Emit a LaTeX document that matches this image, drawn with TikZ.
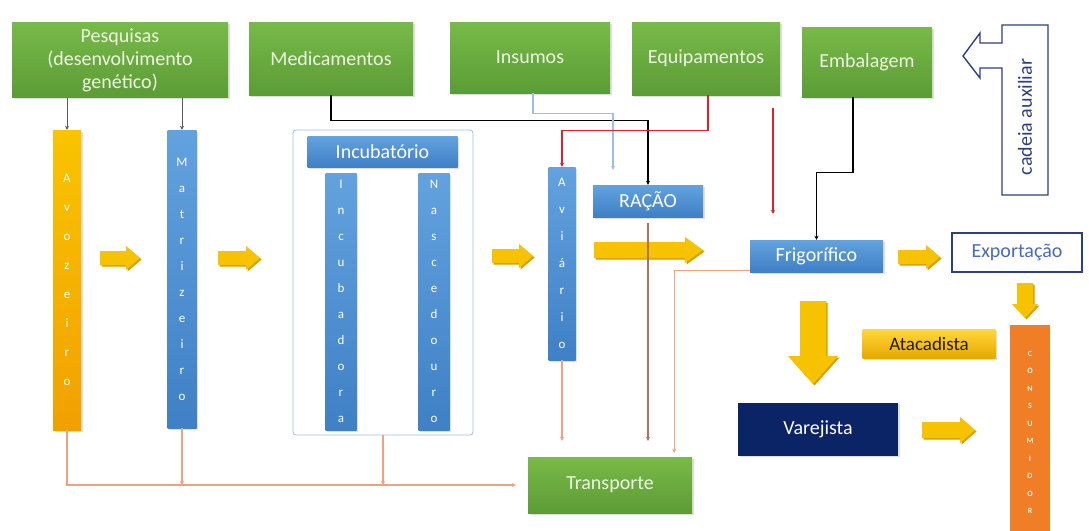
\documentclass[tikz,border=0pt]{standalone}
\usepackage{fontspec}
\setmainfont{Carlito}
\usetikzlibrary{shadows,arrows.meta}
\definecolor{gtop}{HTML}{78BA48}
\definecolor{gbot}{HTML}{5C9C36}
\definecolor{btop}{HTML}{62A2DE}
\definecolor{bbot}{HTML}{3F80C6}
\definecolor{ayel}{HTML}{F7C200}
\definecolor{ashad}{HTML}{D89E00}
\definecolor{navy}{HTML}{0B2466}
\definecolor{orng}{HTML}{F07E26}
\definecolor{salmon}{HTML}{F2A07E}
\definecolor{brownl}{HTML}{B5705A}
\definecolor{redl}{HTML}{E02030}
\definecolor{lblue}{HTML}{9CBFE6}
\definecolor{dblue}{HTML}{2E3F7F}
\definecolor{gtext}{HTML}{EEF7E4}
\definecolor{etext}{HTML}{4A6BB5}
\definecolor{ytop}{HTML}{FFD83A}
\definecolor{ybot}{HTML}{E8A600}
\definecolor{otop}{HTML}{F9C400}
\definecolor{obot}{HTML}{F2A000}
\newcommand\rblock[6]{% xstart, ycenter, xtip, shaft half, head half, head length
  \foreach \s/\c in {1.5/ashad,0/ayel}{
    \fill[\c, shift={(\s,\s)}] (#1,#2-#4) -- (#3-#6,#2-#4) -- (#3-#6,#2-#5) -- (#3,#2)
      -- (#3-#6,#2+#5) -- (#3-#6,#2+#4) -- (#1,#2+#4) -- cycle;}}
\newcommand\dblock[6]{% xcenter, ystart, ytip, shaft half, head half, head length
  \foreach \s/\c in {1.5/ashad,0/ayel}{
    \fill[\c, shift={(\s,\s)}] (#1-#4,#2) -- (#1-#4,#3-#6) -- (#1-#5,#3-#6) -- (#1,#3)
      -- (#1+#5,#3-#6) -- (#1+#4,#3-#6) -- (#1+#4,#2) -- cycle;}}
\begin{document}
\begin{tikzpicture}[x=1pt,y=-1pt,
  box/.style={rectangle, inner sep=0pt, align=center, font=\fontsize{20}{23}\selectfont},
  shad/.style={drop shadow={opacity=0.25,shadow xshift=1.5pt,shadow yshift=-1.5pt}},
  gbox/.style={box, shad, top color=gtop, bottom color=gbot, text=gtext},
  bbox/.style={box, shad, top color=btop, bottom color=bbot, text=white},
  col/.style={bbox, font=\fontsize{13}{26}\selectfont},
  sal/.style={draw=salmon, line width=1.3pt},
  tip/.style={-{Stealth[length=4pt,width=4pt]}},
]
\useasboundingbox (0,0) rectangle (1089,530);
\fill[white] (0,0) rectangle (1089,530);

% top supplier boxes
\node[gbox, minimum width=216pt, minimum height=75pt] (pesq) at (120,60) {Pesquisas\\(desenvolvimento\\genético)};
\node[gbox, minimum width=164pt, minimum height=73pt] (med) at (331,58.5) {Medicamentos};
\node[gbox, minimum width=160pt, minimum height=71pt] (ins) at (530,57.5) {Insumos};
\node[gbox, minimum width=148pt, minimum height=73pt] (equ) at (706,58.5) {Equipamentos};
\node[gbox, minimum width=130pt, minimum height=70pt] (emb) at (867,62) {Embalagem};

% cadeia auxiliar block arrow
\draw[dblue, line width=1.4pt, fill=white] (1002,25) -- (1048,25) -- (1048,195) -- (1002,195)
  -- (1002,68) -- (980,68) -- (980,78) -- (963,56) -- (980,33) -- (980,43) -- (1002,43) -- cycle;
\node[rotate=90, text=dblue, font=\fontsize{20}{22}\selectfont] (cad) at (1025,117) {cadeia auxiliar};

% production chain columns
\node[box, shad, top color=otop, bottom color=obot, text=white, font=\fontsize{13}{29}\selectfont,
  minimum width=28pt, minimum height=300pt] (avo) at (67,280) {A\\v\\o\\z\\e\\i\\r\\o};
\node[col, minimum width=29pt, minimum height=298pt] (mat) at (182,279) {M\\a\\t\\r\\i\\z\\e\\i\\r\\o};

\node[draw=lblue, fill=white, rounded corners=3pt, line width=0.8pt, minimum width=180pt,
  minimum height=305pt, inner sep=0pt] (inc) at (383,282.5) {};
\node[bbox, minimum width=150pt, minimum height=31pt] (inchead) at (382.5,151.5) {Incubatório};
\node[col, minimum width=31pt, minimum height=257pt] (incd) at (341,301.5) {I\\n\\c\\u\\b\\a\\d\\o\\r\\a};
\node[col, minimum width=31pt, minimum height=257pt] (nasc) at (434,301.5) {N\\a\\s\\c\\e\\d\\o\\u\\r\\o};

\node[col, font=\fontsize{13}{27}\selectfont, minimum width=27pt, minimum height=193pt] (avi) at (562,263.5) {A\\v\\i\\á\\r\\i\\o};
\node[bbox, minimum width=110pt, minimum height=32pt] (racao) at (648,201) {RAÇÃO};
\node[bbox, minimum width=133pt, minimum height=32pt] (frig) at (816.5,256) {Frigorífico};
\node[box, draw=dblue, line width=1.4pt, fill=white, text=etext, minimum width=130pt, minimum height=39pt] (exp) at (1017,252.5) {Exportação};
\node[box, shad, top color=ytop, bottom color=ybot, text=black!80!brown, font=\fontsize{19}{22}\selectfont,
  minimum width=133pt, minimum height=29pt] (atac) at (929,344) {Atacadista};
\node[box, shad, fill=navy, text=white, minimum width=160pt, minimum height=53pt] (varej) at (818,429) {Varejista};
\node[box, fill=orng, text=white!90!orng, font=\fontsize{8}{17.5}\selectfont\bfseries,
  minimum width=40pt, minimum height=215pt] (cons) at (1030,432.5) {C\\O\\N\\S\\U\\M\\I\\D\\O\\R};
\node[gbox, minimum width=164pt, minimum height=56pt] (trans) at (610,485) {Transporte};

% yellow block arrows
\rblock{100}{258}{140}{7}{12}{14}
\rblock{218}{258}{260}{7}{12}{14}
\rblock{492}{256}{533}{7}{12}{14}
\rblock{594}{250}{703}{8}{13}{18}
\rblock{898}{257}{940}{7}{12}{14}
\rblock{922}{430}{975}{8}{13}{15}
\dblock{1025}{283}{318}{8}{13}{14}
\dblock{813}{301}{384}{13}{25}{28}

% supplier connectors
\draw[gray!70!black, line width=0.9pt, tip] (pesq.south -| avo.north) -- (avo.north);
\draw[gray!70!black, line width=0.9pt, tip] (pesq.south -| mat.north) -- (mat.north);
\draw[black, line width=1.3pt, tip] (med.south) -- ++(0,25) -| (racao.north);
\draw[lblue, line width=1.3pt, tip, shorten >=15pt] ([xshift=3pt]ins.south) -- ++(0,20) -| ([xshift=-35pt]racao.north);
\draw[redl, line width=1.3pt, tip] ([xshift=2pt]equ.south) -- ++(0,35) -| (avi.north);
\draw[black, line width=1.3pt, tip] ([xshift=-14pt]emb.south) -- ++(0,75) -| (frig.north);
\coordinate (r1) at (773,108);
\coordinate (r2) at (773,214);
\draw[redl, line width=1.3pt, tip] (r1) -- (r2);

% transport connectors
\draw[sal, tip, shorten >=12pt] (avo.south) |- (trans.west);
\draw[sal, tip] (mat.south) -- (mat.south |- trans.west);
\draw[sal, tip] (inc.south) -- (inc.south |- trans.west);
\draw[sal, tip, shorten >=16pt] (avi.south) -- (avi.south |- trans.north);
\draw[brownl, line width=1.1pt, tip, shorten >=16pt] ([yshift=-6pt]racao.south) -- (racao.south |- trans.north);
\draw[sal, tip, shorten >=4pt] ([yshift=2pt]frig.south west) -| ([xshift=-18pt]trans.north east);
\end{tikzpicture}
\end{document}
